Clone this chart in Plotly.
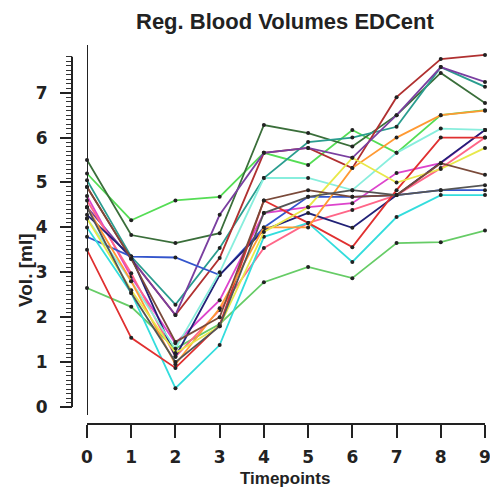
import plotly.graph_objects as go

# Regional blood volume (ml) per region across timepoints 0..9
timepoints = list(range(10))

reg_a = [2.65, 2.23, 1.30, 1.85, 2.78, 3.12, 2.87, 3.65, 3.67, 3.93]
reg_b = [5.20, 4.16, 4.60, 4.68, 5.66, 5.39, 6.17, 5.66, 6.50, 6.61]
reg_c = [5.50, 3.83, 3.65, 3.87, 6.28, 6.10, 5.80, 6.50, 7.44, 6.77]
reg_d = [5.05, 3.35, 2.28, 3.54, 5.10, 5.90, 6.00, 6.24, 7.57, 7.13]
reg_e = [4.90, 3.30, 2.05, 3.32, 5.66, 5.77, 5.32, 6.90, 7.75, 7.84]
reg_f = [4.45, 3.30, 2.05, 4.28, 5.66, 5.77, 5.55, 6.50, 7.57, 7.24]
reg_g = [4.70, 2.90, 1.42, 2.38, 4.32, 4.45, 4.54, 5.21, 5.43, 6.17]
reg_h = [4.60, 2.98, 1.12, 2.16, 3.54, 4.10, 4.39, 4.72, 5.32, 6.00]
reg_i = [3.79, 3.35, 3.33, 2.94, 4.00, 4.68, 4.68, 4.72, 4.83, 4.83]
reg_j = [4.28, 3.35, 1.12, 2.94, 3.94, 4.32, 3.99, 4.72, 5.43, 6.17]
reg_k = [4.00, 2.54, 0.42, 1.38, 3.79, 4.10, 3.23, 4.23, 4.72, 4.72]
reg_l = [4.20, 2.80, 1.30, 3.00, 5.10, 5.10, 4.83, 5.66, 6.20, 6.17]
reg_m = [3.50, 1.54, 0.87, 1.83, 4.60, 4.10, 3.56, 4.83, 6.00, 6.00]
reg_n = [4.45, 2.80, 0.95, 2.20, 4.00, 4.00, 5.32, 6.00, 6.50, 6.60]
reg_o = [4.20, 2.60, 1.20, 1.80, 3.90, 4.45, 5.55, 5.00, 5.30, 5.77]
reg_p = [4.90, 3.30, 1.45, 2.00, 4.60, 4.83, 4.68, 4.72, 5.43, 5.17]
reg_q = [4.45, 2.54, 1.00, 1.80, 4.32, 4.68, 4.83, 4.72, 4.83, 4.94]

regions = [reg_a, reg_b, reg_c, reg_d, reg_e, reg_f, reg_g, reg_h, reg_i,
           reg_j, reg_k, reg_l, reg_m, reg_n, reg_o, reg_p, reg_q]
colors = ["#66cc66", "#55dd55", "#3a6e3a", "#2a9d8f", "#b03030", "#7a3fa0",
          "#dd44cc", "#ff6688", "#3355cc", "#222277", "#33dddd", "#88eedd",
          "#e03030", "#ff9933", "#e8e84a", "#7a4a3a", "#555555"]

y_ticks = list(range(8))
x_ticks = timepoints

fig = go.Figure()
for vals, col in zip(regions, colors):
    fig.add_trace(go.Scatter(
        x=timepoints, y=vals, mode="lines+markers",
        line=dict(color=col, width=1.8),
        marker=dict(color="#222222", size=4),
        cliponaxis=False, showlegend=False, hoverinfo="skip",
    ))

# paper area: x 20..485 px, y 40..468 px
ML, MR, MT, MB = 20, 5, 40, 20
W, H = 490, 488
pw, ph = W - ML - MR, H - MT - MB


def px_x(p):
    return (p - ML) / pw


def px_y(p):
    return (H - MB - p) / ph


y_lo, y_hi = -0.178, 8.062
minor_vals = [round(i * 0.1, 1) for i in range(0, 79) if i % 10 != 0]
tick_font = dict(family="DejaVu Sans", size=17, color="#222222", weight="bold")

fig.update_layout(
    width=W, height=H,
    margin=dict(l=ML, r=MR, t=MT, b=MB, autoexpand=False),
    paper_bgcolor="white", plot_bgcolor="white",
    xaxis=dict(
        domain=[px_x(87), 1.0], range=[0, 9],
        anchor="free", position=px_y(424),
        showgrid=False, zeroline=False,
        showline=True, linecolor="#222222", linewidth=2,
        ticks="outside", ticklen=13, tickwidth=2, tickcolor="#222222",
        tickmode="array", tickvals=x_ticks, ticktext=[str(v) for v in x_ticks],
        ticklabelstandoff=5, ticklabeloverflow="allow",
        tickfont=tick_font,
    ),
    yaxis=dict(
        domain=[px_y(415), px_y(45)], range=[y_lo, y_hi],
        anchor="free", position=px_x(72),
        showgrid=False, zeroline=False, showline=False,
        ticks="outside", ticklen=12, tickwidth=2, tickcolor="#222222",
        tickmode="array", tickvals=y_ticks, ticktext=[str(v) for v in y_ticks],
        ticklabelstandoff=9, ticklabeloverflow="allow",
        tickfont=tick_font,
        minor=dict(tickmode="array", tickvals=minor_vals, ticks="outside",
                   ticklen=6, tickwidth=1, tickcolor="#333333"),
    ),
    shapes=[
        # ruler spine for the y scale
        dict(type="line", xref="paper", yref="y", x0=px_x(72), x1=px_x(72),
             y0=0, y1=7.8, line=dict(color="#222222", width=2)),
        # left border of the plotting region
        dict(type="line", xref="x", yref="paper", x0=0, x1=0,
             y0=px_y(415), y1=px_y(45), line=dict(color="#222222", width=2)),
    ],
    annotations=[
        dict(text="<b>Reg. Blood Volumes EDCent</b>", xref="paper", yref="paper",
             x=px_x(285), y=px_y(22), xanchor="center", yanchor="middle",
             showarrow=False,
             font=dict(family="Liberation Sans", size=22, color="#222222")),
        dict(text="<b>Timepoints</b>", xref="paper", yref="paper",
             x=px_x(285), y=px_y(478), xanchor="center", yanchor="middle",
             showarrow=False,
             font=dict(family="Liberation Sans", size=17, color="#222222")),
        dict(text="<b>Vol. [ml]</b>", xref="paper", yref="paper",
             x=px_x(25), y=px_y(270), xanchor="center", yanchor="middle",
             showarrow=False, textangle=-90,
             font=dict(family="Liberation Sans", size=19, color="#222222")),
    ],
)

fig.write_html("out.html")
